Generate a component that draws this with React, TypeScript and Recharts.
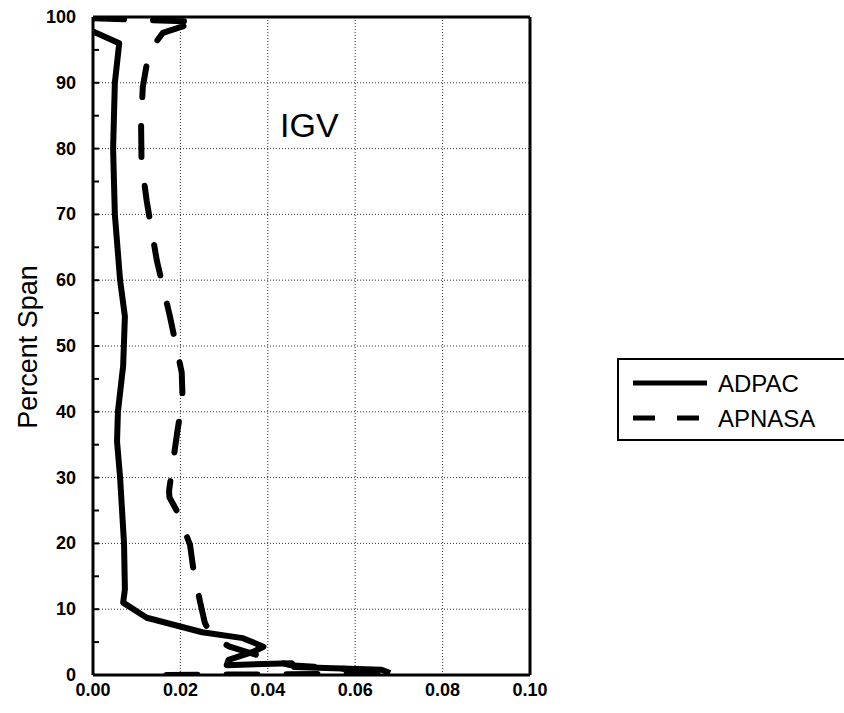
import { LineChart, Line, XAxis, YAxis, ReferenceLine } from 'recharts';

// tick values
const xTicks = [0, 0.02, 0.04, 0.06, 0.08, 0.1];
const xMinorTicks = [0, 0.01, 0.02, 0.03, 0.04, 0.05, 0.06, 0.07, 0.08, 0.09, 0.1];
const yMinorTicks = [0, 5, 10, 15, 20, 25, 30, 35, 40, 45, 50, 55, 60, 65, 70, 75, 80, 85, 90, 95, 100];
const xGrid = [0.02, 0.04, 0.06, 0.08];
const yGrid = [10, 20, 30, 40, 50, 60, 70, 80, 90];

// ADPAC (solid), read top to bottom
const adpacValue = [0.0, 0.006, 0.005, 0.0046, 0.005, 0.0062, 0.0073, 0.0069, 0.0057, 0.0055, 0.0062, 0.0071, 0.0073, 0.0069, 0.0123, 0.025, 0.0343, 0.039, 0.0366, 0.031, 0.0306, 0.0455, 0.046, 0.066, 0.068];
const adpacSpan = [97.8, 96.0, 90, 80, 70, 60, 54.5, 47, 40, 35.5, 30, 20, 13, 11, 8.7, 6.5, 5.6, 4.3, 3.5, 2.3, 1.5, 1.8, 1.2, 0.8, 0.3];

// APNASA (dashed), read top to bottom
const apnasaValue = [0.0, 0.024, 0.016, 0.0128, 0.0114, 0.011, 0.0111, 0.0123, 0.0146, 0.0176, 0.0203, 0.0205, 0.0193, 0.0174, 0.0175, 0.0193, 0.0222, 0.0229, 0.0245, 0.0256, 0.0275, 0.0313, 0.045, 0.065, 0.068, 0.012];
const apnasaSpan = [99.8, 99.3, 97.6, 94.7, 89.4, 84, 78, 72, 63, 54.5, 46, 42, 37, 28, 27, 24.8, 19.8, 16.4, 11.1, 7.9, 5.6, 4.3, 1.5, 0.6, 0.2, 0.0];

const adpacData = adpacValue.map((x, i) => ({ x, y: adpacSpan[i] }));
const apnasaData = apnasaValue.map((x, i) => ({ x, y: apnasaSpan[i] }));

const font = '"Liberation Sans", Arial, sans-serif';

// left axis: label every 10, short inward mark every 5
const YTick = (props: any) => {
  const { x, y, payload } = props;
  const axisX = x + 17;
  const v = payload.value;
  return (
    <g>
      <line x1={axisX} y1={y} x2={axisX + 6} y2={y} stroke="#000" strokeWidth={2} />
      {v % 10 === 0 && (
        <text x={x} y={y} dy={6} textAnchor="end" fontSize={18} fontWeight={700} fontFamily={font} fill="#000">
          {v}
        </text>
      )}
    </g>
  );
};

const XTick = (props: any) => {
  const { x, y, payload } = props;
  return (
    <text x={x} y={y} dy={14} textAnchor="middle" fontSize={18} fontWeight={700} fontFamily={font} fill="#000">
      {payload.value.toFixed(2)}
    </text>
  );
};

const TopTick = (props: any) => {
  const { x, payload } = props;
  return <line x1={x} y1={17} x2={x} y2={23} stroke="#000" strokeWidth={2} data-v={payload.value} />;
};

export default function App() {
  return (
    <div style={{ position: 'fixed', left: 0, top: 0, width: 844, height: 713, overflow: 'hidden', background: '#fff' }}>
      <LineChart width={844} height={713} margin={{ top: 17, right: 314, bottom: 0, left: 0 }}>
        <XAxis
          dataKey="x"
          type="number"
          domain={[0, 0.1]}
          ticks={xTicks}
          allowDataOverflow
          height={38}
          tickLine={false}
          tickSize={0}
          tickMargin={7}
          tick={XTick}
          axisLine={{ stroke: '#000', strokeWidth: 3 }}
        />
        <XAxis
          xAxisId="top"
          orientation="top"
          type="number"
          domain={[0, 0.1]}
          ticks={xMinorTicks}
          allowDataOverflow
          mirror
          tickLine={false}
          tick={TopTick}
          axisLine={{ stroke: '#000', strokeWidth: 3 }}
        />
        <YAxis
          dataKey="y"
          type="number"
          domain={[0, 100]}
          ticks={yMinorTicks}
          allowDataOverflow
          width={93}
          tickLine={false}
          tickSize={0}
          tickMargin={17}
          tick={YTick}
          axisLine={{ stroke: '#000', strokeWidth: 3 }}
        />
        <YAxis
          yAxisId="right"
          orientation="right"
          type="number"
          domain={[0, 100]}
          allowDataOverflow
          mirror
          tick={false}
          tickLine={false}
          axisLine={{ stroke: '#000', strokeWidth: 3 }}
        />
        {xGrid.map(v => (
          <ReferenceLine key={'gx' + v} x={v} stroke="#333" strokeWidth={1} strokeDasharray="1 2" />
        ))}
        {yGrid.map(v => (
          <ReferenceLine key={'gy' + v} y={v} stroke="#333" strokeWidth={1} strokeDasharray="1 2" />
        ))}
        <Line
          data={apnasaData}
          dataKey="y"
          name="APNASA"
          stroke="#000"
          strokeWidth={6}
          strokeDasharray="31 29"
          strokeLinecap="round"
          dot={false}
          activeDot={false}
          isAnimationActive={false}
        />
        <Line
          data={adpacData}
          dataKey="y"
          name="ADPAC"
          stroke="#000"
          strokeWidth={6}
          strokeLinejoin="round"
          dot={false}
          activeDot={false}
          isAnimationActive={false}
        />
      </LineChart>
      <svg width={844} height={713} style={{ position: 'absolute', left: 0, top: 0, pointerEvents: 'none' }}>
        <text x={280} y={137} fontSize={34} fontFamily={font} fill="#000">IGV</text>
        <text
          x={37}
          y={347}
          transform="rotate(-90 37 347)"
          textAnchor="middle"
          fontSize={27}
          fontFamily={font}
          fill="#000"
        >
          Percent Span
        </text>
        <rect x={618} y={359} width={240} height={81} fill="#fff" stroke="#000" strokeWidth={2} />
        <line x1={633} y1={383} x2={707} y2={383} stroke="#000" strokeWidth={5} />
        <text x={718} y={392} fontSize={24} fontFamily={font} fill="#000">ADPAC</text>
        <line x1={633} y1={418} x2={707} y2={418} stroke="#000" strokeWidth={5} strokeDasharray="22 22" />
        <text x={718} y={427} fontSize={24} fontFamily={font} fill="#000">APNASA</text>
      </svg>
    </div>
  );
}
